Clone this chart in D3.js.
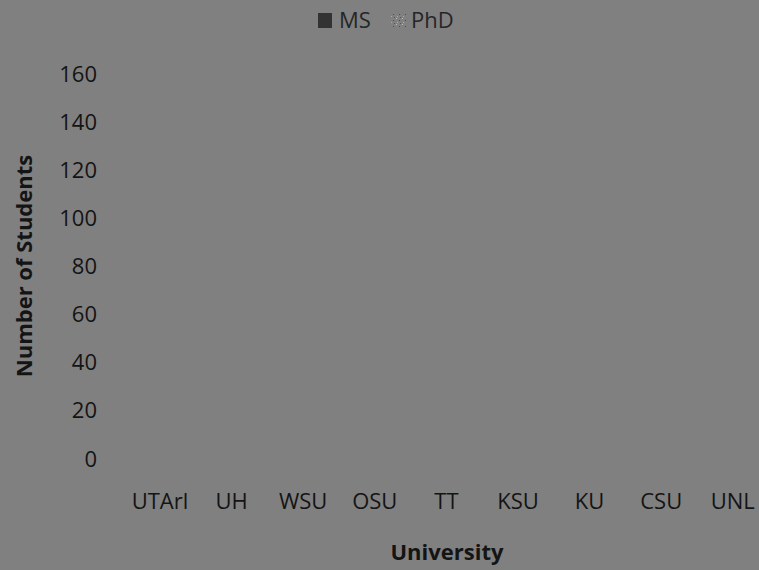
<!DOCTYPE html>
<html>
<head>
<meta charset="utf-8">
<script src="https://cdn.jsdelivr.net/npm/d3@7/dist/d3.min.js"></script>
<style>
  html, body { margin: 0; padding: 0; background: #808080; }
  svg { display: block; }
  text { font-family: "Open Sans", "Noto Sans", sans-serif; }
</style>
</head>
<body>
<svg id="chart" width="759" height="570"></svg>
<script>
// Enrolment by university, split by degree programme
const universities = ["UTArl", "UH", "WSU", "OSU", "TT", "KSU", "KU", "CSU", "UNL"];
const msStudents  = [0, 0, 0, 0, 0, 0, 0, 0, 0];
const phdStudents = [0, 0, 0, 0, 0, 0, 0, 0, 0];
const seriesNames = ["MS", "PhD"];
const yTicks = [0, 20, 40, 60, 80, 100, 120, 140, 160];

const W = 759, H = 570;
const bg = "#808080";
const ink = "#141414";
const msFill = "#333333";
const fontSize = 22;

const svg = d3.select("#chart");
svg.append("rect").attr("width", W).attr("height", H).attr("fill", bg);

// speckled fill used for the PhD series
const defs = svg.append("defs");
const pat = defs.append("pattern")
  .attr("id", "phdPattern")
  .attr("patternUnits", "userSpaceOnUse")
  .attr("width", 6).attr("height", 6);
pat.append("rect").attr("width", 6).attr("height", 6).attr("fill", bg);
pat.append("rect").attr("x", 0).attr("y", 0).attr("width", 1).attr("height", 1).attr("fill", "#bdbdbd");
pat.append("rect").attr("x", 3).attr("y", 2).attr("width", 1).attr("height", 1).attr("fill", "#4a4a4a");
pat.append("rect").attr("x", 1).attr("y", 4).attr("width", 1).attr("height", 1).attr("fill", "#adadad");
pat.append("rect").attr("x", 4).attr("y", 5).attr("width", 1).attr("height", 1).attr("fill", "#555");

const x0 = 124.2, x1 = 768.6;
const x = d3.scaleBand().domain(universities).range([x0, x1]).paddingInner(0.32).paddingOuter(0.16);
const xc = d3.scaleBand().domain(universities).range([x0, x1]);
const sub = d3.scaleBand().domain(seriesNames).range([0, x.bandwidth()]);
const y = d3.scaleLinear().domain([0, 160]).range([459, 74.5]);

// bars
const rows = universities.map((u, i) => ({ u, MS: msStudents[i], PhD: phdStudents[i] }));
const groups = svg.append("g").selectAll("g").data(rows).join("g")
  .attr("transform", d => `translate(${x(d.u)},0)`);
groups.selectAll("rect").data(d => seriesNames.map(k => ({ k, v: d[k] }))).join("rect")
  .attr("x", d => sub(d.k))
  .attr("width", sub.bandwidth())
  .attr("y", d => y(d.v))
  .attr("height", d => y(0) - y(d.v))
  .attr("fill", d => d.k === "MS" ? msFill : "url(#phdPattern)");

// y axis
const yAxis = svg.append("g")
  .attr("transform", "translate(97,0)")
  .call(d3.axisLeft(y).tickValues(yTicks).tickSize(0).tickPadding(0));
yAxis.select(".domain").remove();
yAxis.selectAll("text")
  .attr("fill", ink).attr("font-size", fontSize)
  .attr("font-family", "'Open Sans', sans-serif");

// x axis (labels sit on a baseline at y = 509)
const xAxis = svg.append("g")
  .attr("transform", "translate(0,509)")
  .call(d3.axisBottom(xc).tickSize(0).tickPadding(0));
xAxis.select(".domain").remove();
xAxis.selectAll("text")
  .attr("y", 0).attr("dy", 0)
  .attr("fill", ink).attr("font-size", fontSize)
  .attr("font-family", "'Open Sans', sans-serif");

// axis titles
svg.append("text")
  .attr("x", 447).attr("y", 560)
  .attr("text-anchor", "middle")
  .attr("font-size", fontSize).attr("font-weight", "bold")
  .attr("fill", ink)
  .text("University");

svg.append("text")
  .attr("transform", "translate(32,266) rotate(-90)")
  .attr("text-anchor", "middle")
  .attr("font-size", fontSize).attr("font-weight", "bold")
  .attr("fill", ink)
  .text("Number of Students");

// legend
const legend = svg.append("g");
legend.append("rect").attr("x", 318).attr("y", 13).attr("width", 14).attr("height", 15).attr("fill", msFill);
legend.append("text").attr("x", 339).attr("y", 28).attr("font-size", fontSize).attr("fill", "#262626").text(seriesNames[0]);
legend.append("rect").attr("x", 391).attr("y", 13).attr("width", 15).attr("height", 15).attr("fill", "url(#phdPattern)");
legend.append("text").attr("x", 411).attr("y", 28).attr("font-size", fontSize).attr("fill", "#262626").text(seriesNames[1]);
</script>
</body>
</html>
